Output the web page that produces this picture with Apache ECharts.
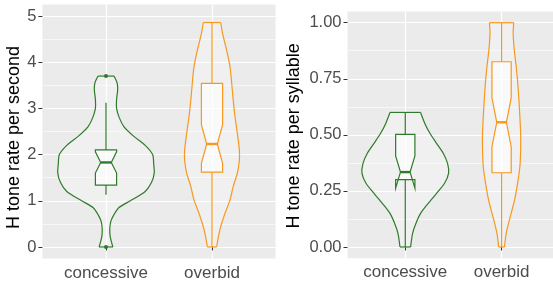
<!DOCTYPE html>
<html><head><meta charset="utf-8">
<script src="https://cdn.jsdelivr.net/npm/echarts@6/dist/echarts.min.js"></script>
<style>html,body{margin:0;padding:0;background:#fff}#c{width:553px;height:282px}</style>
</head><body><div id="c"></div>
<script>
const categories = ['concessive', 'overbid'];
const catPositions = [1, 2];
const colors = ['#2f7a2b', '#f7981f'];

const yTicksRate = [0, 1, 2, 3, 4, 5];
const yMinorRate = [0.5, 1.5, 2.5, 3.5, 4.5];
const yTicksSyl = [0, 0.25, 0.5, 0.75, 1];
const yMinorSyl = [0.125, 0.375, 0.625, 0.875];

// violin profiles: value and half-width (category units)
const rateConcY = [0, 0.12, 0.25, 0.4, 0.55, 0.7, 0.85, 1.0, 1.2, 1.4, 1.6, 1.8, 2.0, 2.2, 2.4, 2.6, 2.8, 3.0, 3.2, 3.4, 3.55, 3.7];
const rateConcW = [0.065, 0.05, 0.038, 0.036, 0.045, 0.075, 0.12, 0.23, 0.37, 0.43, 0.455, 0.45, 0.44, 0.37, 0.26, 0.17, 0.125, 0.1, 0.1, 0.11, 0.105, 0.075];
const rateOverY = [0, 0.22, 0.44, 0.73, 1.02, 1.31, 1.6, 1.88, 2.1, 2.46, 2.82, 3.18, 3.54, 3.9, 4.26, 4.62, 4.86];
const rateOverW = [0.044, 0.06, 0.082, 0.123, 0.17, 0.2, 0.239, 0.258, 0.258, 0.239, 0.217, 0.2, 0.186, 0.17, 0.138, 0.1, 0.082];
const sylConcY = [0, 0.061, 0.106, 0.15, 0.195, 0.239, 0.284, 0.329, 0.373, 0.418, 0.462, 0.507, 0.55, 0.6];
const sylConcW = [0.055, 0.076, 0.111, 0.159, 0.239, 0.325, 0.408, 0.45, 0.439, 0.394, 0.325, 0.256, 0.204, 0.159];
const sylOverY = [0, 0.061, 0.135, 0.21, 0.284, 0.358, 0.432, 0.507, 0.58, 0.655, 0.73, 0.804, 0.878, 0.953, 1.0];
const sylOverW = [0.03, 0.048, 0.09, 0.135, 0.166, 0.19, 0.198, 0.198, 0.19, 0.18, 0.168, 0.152, 0.132, 0.12, 0.126];

// box stats: [lowWhisker, q1, notchLow, median, notchHigh, q3, highWhisker]
const rateConcBox = [1.13, 1.34, 1.60, 1.83, 2.06, 2.10, 3.12];
const rateOverBox = [0, 1.62, 1.81, 2.23, 2.65, 3.54, 4.86];
const sylConcBox = [0, 0.30, 0.262, 0.334, 0.406, 0.502, 0.60];
const sylOverBox = [0, 0.331, 0.447, 0.556, 0.665, 0.826, 1.0];

const rateConcOutliers = [0, 3.70];
const rateOverOutliers = [];
const sylConcOutliers = [];
const sylOverOutliers = [];

const BOX_HALF = 0.1;
const NOTCH_HALF = 0.05;

function violinSeries(axisIdx, yIdx, profiles, boxes, outliers) {
  return {
    type: 'custom',
    xAxisIndex: axisIdx,
    yAxisIndex: yIdx,
    clip: false,
    z: 5,
    data: catPositions.map(p => [p]),
    renderItem: function (params, api) {
      const i = params.dataIndex;
      const x0 = catPositions[i];
      const prof = profiles[i];
      const col = colors[i];
      const n = prof[0].length;
      const right = [], left = [];
      for (let k = 0; k < n; k++) {
        right.push(api.coord([x0 + prof[1][k], prof[0][k]]));
        left.push(api.coord([x0 - prof[1][k], prof[0][k]]));
      }
      const fillPts = right.concat(left.slice().reverse());
      const b = boxes[i];
      const [lw, q1, nl, med, nh, q3, hw] = b;
      const xl = x0 - BOX_HALF, xr = x0 + BOX_HALF;
      const boxPts = [
        [xl, q3], [xl, nh], [x0 - NOTCH_HALF, med], [xl, nl], [xl, q1],
        [xr, q1], [xr, nl], [x0 + NOTCH_HALF, med], [xr, nh], [xr, q3]
      ].map(p => api.coord(p));
      const LW = 1.2;
      const lineStyle = { stroke: col, lineWidth: LW, fill: null };
      const seg = (a, c) => ({ type: 'line', shape: { x1: a[0], y1: a[1], x2: c[0], y2: c[1] }, style: lineStyle });
      const children = [
        { type: 'polygon', shape: { points: fillPts, smooth: 0.2 },
          style: { fill: 'rgba(255,255,255,0.28)', stroke: null } },
        { type: 'polyline', shape: { points: right, smooth: 0.25 }, style: lineStyle },
        { type: 'polyline', shape: { points: left, smooth: 0.25 }, style: lineStyle },
        seg(right[0], left[0]),
        seg(right[n - 1], left[n - 1]),
        seg(api.coord([x0, q3]), api.coord([x0, hw])),
        seg(api.coord([x0, q1]), api.coord([x0, lw])),
        { type: 'polygon', shape: { points: boxPts },
          style: { fill: 'rgba(255,255,255,0.6)', stroke: col, lineWidth: LW, lineJoin: 'miter' } },
        { type: 'line', shape: { x1: api.coord([x0 - NOTCH_HALF, med])[0], y1: api.coord([x0, med])[1], x2: api.coord([x0 + NOTCH_HALF, med])[0], y2: api.coord([x0, med])[1] },
          style: { stroke: col, lineWidth: 2.4 } }
      ];
      outliers[i].forEach(v => {
        const c = api.coord([x0, v]);
        children.push({ type: 'circle', shape: { cx: c[0], cy: c[1], r: 2 }, style: { fill: col } });
      });
      return { type: 'group', children: children };
    }
  };
}

const fontFam = '"Liberation Sans", Arial, sans-serif';
const gridLine = { show: true, lineStyle: { color: '#ffffff', width: 1.2 } };
const minorLine = { show: true, lineStyle: { color: '#ffffff', width: 0.6 } };

function xAxisDef(gridIndex, max) {
  return {
    type: 'value', gridIndex: gridIndex, min: 0.4, max: max, position: 'bottom',
    axisLine: { show: false },
    axisTick: { show: true, customValues: catPositions, length: 3.5, lineStyle: { color: '#333', width: 1 } },
    axisLabel: { show: true, customValues: catPositions, margin: 6, hideOverlap: false,
      showMinLabel: true, showMaxLabel: true,
      formatter: v => categories[catPositions.indexOf(v)] || '',
      fontSize: 17, color: '#4d4d4d', fontFamily: fontFam },
    splitLine: gridLine
  };
}
function yAxisMain(gridIndex, min, max, ticks, name, gap, fmt, pad) {
  return {
    type: 'value', gridIndex: gridIndex, min: min, max: max, position: 'left',
    name: name, nameLocation: 'middle', nameGap: gap,
    nameTextStyle: { fontSize: 18, color: '#000', fontFamily: fontFam, padding: pad },
    axisLine: { show: false },
    axisTick: { show: true, customValues: ticks, length: 4, lineStyle: { color: '#333', width: 1 } },
    axisLabel: { show: true, customValues: ticks, margin: 6, formatter: fmt,
      fontSize: 16.5, color: '#4d4d4d', fontFamily: fontFam },
    splitLine: gridLine
  };
}
function yAxisMinor(gridIndex, min, max, ticks) {
  return {
    type: 'value', gridIndex: gridIndex, min: min, max: max, position: 'left',
    axisLine: { show: false },
    axisTick: { show: false, customValues: ticks },
    axisLabel: { show: false, customValues: ticks },
    splitLine: minorLine
  };
}

const chart = echarts.init(document.getElementById('c'));
chart.setOption({
  backgroundColor: '#ffffff',
  animation: false,
  grid: [
    { left: 42.4, top: 4.5, width: 233.2, height: 254, show: true, backgroundColor: '#ebebeb', borderWidth: 0 },
    { left: 347.5, top: 11.5, width: 205.5, height: 246.7, show: true, backgroundColor: '#ebebeb', borderWidth: 0 }
  ],
  xAxis: [xAxisDef(0, 2.6), xAxisDef(1, 2.534)],
  yAxis: [
    yAxisMinor(0, -0.25, 5.25, yMinorRate),
    yAxisMain(0, -0.25, 5.25, yTicksRate, 'H tone rate per second', 16, v => String(v), [0, 12, 0, 0]),
    yAxisMinor(1, -0.05, 1.05, yMinorSyl),
    yAxisMain(1, -0.05, 1.05, yTicksSyl, 'H tone rate per syllable', 44, v => v.toFixed(2), [0, 2, 0, 0])
  ],
  series: [
    violinSeries(0, 1, [[rateConcY, rateConcW], [rateOverY, rateOverW]], [rateConcBox, rateOverBox], [rateConcOutliers, rateOverOutliers]),
    violinSeries(1, 3, [[sylConcY, sylConcW], [sylOverY, sylOverW]], [sylConcBox, sylOverBox], [sylConcOutliers, sylOverOutliers])
  ]
});
</script>
</body></html>
